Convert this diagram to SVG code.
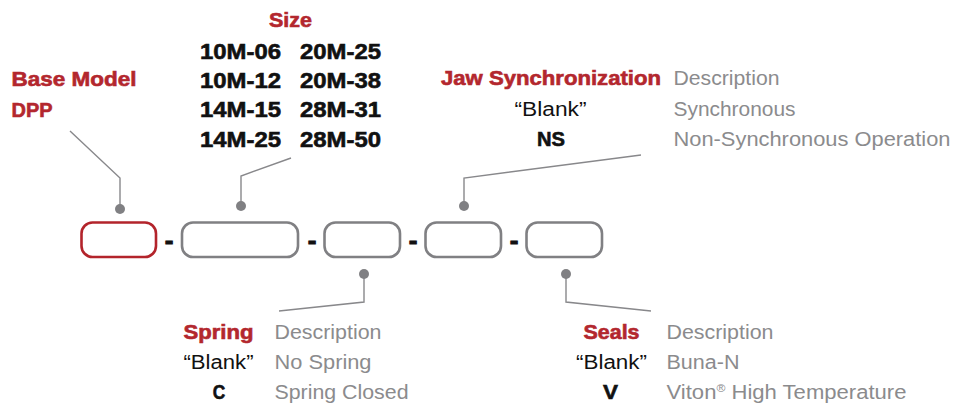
<svg xmlns="http://www.w3.org/2000/svg" width="954" height="404" viewBox="0 0 954 404">
<style>
text { font-family: "Liberation Sans", Arial, sans-serif; }
.hd { font-weight: bold; fill: #b3272e; stroke: #b3272e; stroke-width: 0.6; font-size: 20px; }
.code { font-weight: bold; fill: #111; stroke: #111; stroke-width: 0.6; font-size: 22px; }
.opt { fill: #111; font-size: 20px; }
.optb { fill: #111; stroke: #111; stroke-width: 0.6; font-size: 20px; font-weight: bold; }
.desc { fill: #8b8b8d; font-size: 20px; }
.box { fill: none; stroke: #808083; stroke-width: 2.6; }
.boxr { fill: none; stroke: #b3242b; stroke-width: 2.6; }
.dash { font-weight: bold; fill: #111; stroke: #111; stroke-width: 1; font-size: 26px; }
.ln { fill: none; stroke: #88888b; stroke-width: 1.4; }
.dot { fill: #808083; }
</style>
<rect width="954" height="404" fill="#ffffff"/>

<g id="connectors">
  <polyline class="ln" points="70,131 120,178 120,209"/>
  <circle class="dot" cx="120" cy="209" r="5"/>
  <polyline class="ln" points="291,158 241,176 241,206"/>
  <circle class="dot" cx="241" cy="206" r="5"/>
  <polyline class="ln" points="641,155 464,178 464,206"/>
  <circle class="dot" cx="464" cy="206" r="5"/>
  <polyline class="ln" points="279,311 364,302 364,274"/>
  <circle class="dot" cx="364" cy="274" r="5"/>
  <polyline class="ln" points="651,311 566,302 566,274"/>
  <circle class="dot" cx="566" cy="274" r="5"/>
  <text class="dash" x="169" y="249" text-anchor="middle">-</text>
  <text class="dash" x="312" y="249" text-anchor="middle">-</text>
  <text class="dash" x="413" y="249" text-anchor="middle">-</text>
  <text class="dash" x="514" y="249" text-anchor="middle">-</text>
</g>

<g id="base-model">
  <rect class="boxr" x="81.5" y="222.5" width="74.5" height="34.5" rx="11"/>
  <text class="hd" x="11.5" y="86" textLength="125" lengthAdjust="spacingAndGlyphs" font-size="21">Base Model</text>
  <text class="hd" x="11.5" y="117" textLength="41" lengthAdjust="spacingAndGlyphs" font-size="21">DPP</text>
</g>

<g id="size">
  <rect class="box" x="182" y="222.5" width="116" height="34.5" rx="11"/>
  <text class="hd" x="290.5" y="27" text-anchor="middle" textLength="43" lengthAdjust="spacingAndGlyphs" font-size="21">Size</text>
  <text class="code" x="200" y="59" textLength="81" lengthAdjust="spacingAndGlyphs">10M-06</text>
  <text class="code" x="300" y="59" textLength="81" lengthAdjust="spacingAndGlyphs">20M-25</text>
  <text class="code" x="200" y="88" textLength="81" lengthAdjust="spacingAndGlyphs">10M-12</text>
  <text class="code" x="300" y="88" textLength="81" lengthAdjust="spacingAndGlyphs">20M-38</text>
  <text class="code" x="200" y="117" textLength="81" lengthAdjust="spacingAndGlyphs">14M-15</text>
  <text class="code" x="300" y="117" textLength="81" lengthAdjust="spacingAndGlyphs">28M-31</text>
  <text class="code" x="200" y="147" textLength="81" lengthAdjust="spacingAndGlyphs">14M-25</text>
  <text class="code" x="300" y="147" textLength="81" lengthAdjust="spacingAndGlyphs">28M-50</text>
</g>

<g id="spring">
  <rect class="box" x="324.5" y="222.5" width="75.5" height="34.5" rx="11"/>
  <text class="hd" x="218.5" y="339" text-anchor="middle" textLength="70" lengthAdjust="spacingAndGlyphs">Spring</text>
  <text class="desc" x="274.5" y="339" textLength="107" lengthAdjust="spacingAndGlyphs">Description</text>
  <text class="opt" x="218.5" y="369" text-anchor="middle" textLength="70" lengthAdjust="spacingAndGlyphs">“Blank”</text>
  <text class="desc" x="274.5" y="369" textLength="97" lengthAdjust="spacingAndGlyphs">No Spring</text>
  <text class="optb" x="219" y="399" text-anchor="middle" textLength="12.5" lengthAdjust="spacingAndGlyphs">C</text>
  <text class="desc" x="274.5" y="399" textLength="134" lengthAdjust="spacingAndGlyphs">Spring Closed</text>
</g>

<g id="jaw-synchronization">
  <rect class="box" x="425.5" y="222.5" width="75.5" height="34.5" rx="11"/>
  <text class="hd" x="441" y="85" textLength="220" lengthAdjust="spacingAndGlyphs">Jaw Synchronization</text>
  <text class="desc" x="673.5" y="85" textLength="106" lengthAdjust="spacingAndGlyphs">Description</text>
  <text class="opt" x="550.5" y="116" text-anchor="middle" textLength="72" lengthAdjust="spacingAndGlyphs">“Blank”</text>
  <text class="desc" x="673.5" y="116" textLength="122" lengthAdjust="spacingAndGlyphs">Synchronous</text>
  <text class="optb" x="551" y="146" text-anchor="middle" textLength="28" lengthAdjust="spacingAndGlyphs">NS</text>
  <text class="desc" x="673.5" y="146" textLength="277" lengthAdjust="spacingAndGlyphs">Non-Synchronous Operation</text>
</g>

<g id="seals">
  <rect class="box" x="526.5" y="222.5" width="75.5" height="34.5" rx="11"/>
  <text class="hd" x="611.5" y="339" text-anchor="middle" textLength="56" lengthAdjust="spacingAndGlyphs">Seals</text>
  <text class="desc" x="666.5" y="339" textLength="107" lengthAdjust="spacingAndGlyphs">Description</text>
  <text class="opt" x="611.5" y="369" text-anchor="middle" textLength="71" lengthAdjust="spacingAndGlyphs">“Blank”</text>
  <text class="desc" x="666.5" y="369" textLength="73" lengthAdjust="spacingAndGlyphs">Buna-N</text>
  <text class="optb" x="610.5" y="399" text-anchor="middle" textLength="15" lengthAdjust="spacingAndGlyphs">V</text>
  <text class="desc" x="666.5" y="399" textLength="240" lengthAdjust="spacingAndGlyphs">Viton<tspan font-size="11" dy="-7">®</tspan><tspan dy="7"> High Temperature</tspan></text>
</g>
</svg>
